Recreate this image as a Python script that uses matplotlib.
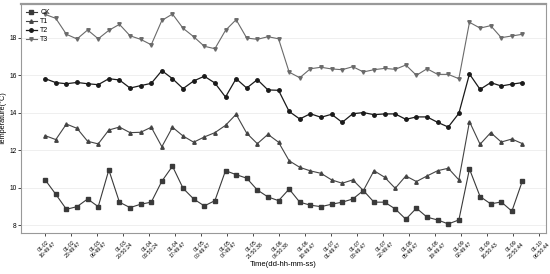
import numpy as np
import matplotlib
matplotlib.use('Agg')
import matplotlib.pyplot as plt

plt.rcParams['font.family'] = ['Liberation Sans', 'DejaVu Sans']

ck = [10.42, 9.65, 8.85, 8.99, 9.40, 8.99, 10.95, 9.23, 8.94, 9.12,
      9.23, 10.35, 11.15, 9.97, 9.40, 9.03, 9.31, 10.91, 10.70, 10.51,
      9.88, 9.51, 9.31, 9.93, 9.23, 9.07, 8.99, 9.12, 9.23, 9.40,
      9.85, 9.23, 9.23, 8.87, 8.32, 8.91, 8.43, 8.28, 8.07, 8.28,
      11.00, 9.53, 9.14, 9.24, 8.75, 10.38]
t1 = [12.78, 12.57, 13.40, 13.17, 12.48, 12.34, 13.08, 13.24, 12.94, 12.96,
      13.23, 12.19, 13.23, 12.76, 12.43, 12.71, 12.94, 13.33, 13.92, 12.91,
      12.35, 12.85, 12.43, 11.44, 11.09, 10.90, 10.77, 10.42, 10.24, 10.42,
      9.85, 10.91, 10.56, 9.97, 10.63, 10.33, 10.63, 10.91, 11.04, 10.42,
      13.53, 12.32, 12.94, 12.44, 12.60, 12.35]
t2 = [15.82, 15.61, 15.55, 15.62, 15.55, 15.50, 15.82, 15.75, 15.32, 15.45,
      15.57, 16.25, 15.82, 15.29, 15.70, 15.95, 15.59, 14.84, 15.82, 15.32,
      15.77, 15.22, 15.20, 14.07, 13.67, 13.95, 13.76, 13.92, 13.49, 13.95,
      14.01, 13.90, 13.94, 13.94, 13.65, 13.78, 13.78, 13.49, 13.24, 13.97,
      16.07, 15.25, 15.61, 15.43, 15.53, 15.61]
t3 = [19.25, 19.04, 18.19, 17.94, 18.42, 17.95, 18.40, 18.72, 18.11, 17.92,
      17.63, 18.93, 19.27, 18.51, 18.06, 17.55, 17.42, 18.40, 18.97, 17.99,
      17.92, 18.06, 17.95, 16.17, 15.87, 16.35, 16.43, 16.34, 16.30, 16.46,
      16.18, 16.30, 16.37, 16.32, 16.55, 16.00, 16.35, 16.05, 16.05, 15.82,
      18.83, 18.52, 18.65, 18.01, 18.10, 18.19]

time_labels = ['01-02\n16:49:47', '01-02\n23:49:47', '01-03\n06:49:47', '01-03\n20:50:24',
               '01-04\n03:50:24', '01-04\n17:49:47', '01-05\n00:49:47', '01-05\n07:49:47',
               '01-05\n21:50:38', '01-06\n04:50:38', '01-06\n18:49:47', '01-07\n01:49:47',
               '01-07\n08:49:47', '01-07\n22:49:47', '01-08\n05:49:47', '01-08\n19:49:47',
               '01-09\n02:49:47', '01-09\n16:50:43', '01-09\n23:50:44', '01-10\n06:50:44']

x = np.arange(len(ck))

fig = plt.figure(figsize=(5.5, 2.74), dpi=100)
ax = fig.add_axes([0.038, 0.150, 0.955, 0.835])

ax.plot(x, ck, marker='s', ms=2.5, lw=0.8, c='#3a3a3a', label='CK')
ax.plot(x, t1, marker='^', ms=2.5, lw=0.8, c='#444444', label='T1')
ax.plot(x, t2, marker='o', ms=2.5, lw=0.9, c='#1a1a1a', label='T2')
ax.plot(x, t3, marker='v', ms=2.5, lw=0.8, c='#6a6a6a', label='T3')

ax.set_xticks(np.linspace(0, 46.6, len(time_labels)))
ax.set_xticklabels(time_labels, rotation=45, fontsize=3.8, ha='center', va='top')
ax.set_xlim(-2.29, 47.23)
ax.set_ylim(7.59, 19.80)
ax.set_yticks([8, 10, 12, 14, 16, 18])
ax.tick_params(axis='y', labelsize=4.8, length=2, width=0.5, pad=1)
ax.tick_params(axis='x', length=2, width=0.5, pad=1)
ax.grid(axis='y', color='#ececec', lw=0.6)
ax.set_axisbelow(True)
for s in ax.spines.values():
    s.set_color('#999999')
    s.set_linewidth(0.8)
ax.spines['top'].set_linewidth(1.6)

ax.set_xlabel('Time(dd-hh-mm-ss)', fontsize=5.5, labelpad=1)
ax.set_ylabel('Temperature(°C)', fontsize=5.2)
ax.yaxis.set_label_coords(-0.026, 0.5)
ax.legend(loc='upper left', frameon=False, fontsize=5, handlelength=1.6,
          labelspacing=0.3, borderaxespad=0.3, handletextpad=0.5)

fig.savefig('out.png', dpi=100)
